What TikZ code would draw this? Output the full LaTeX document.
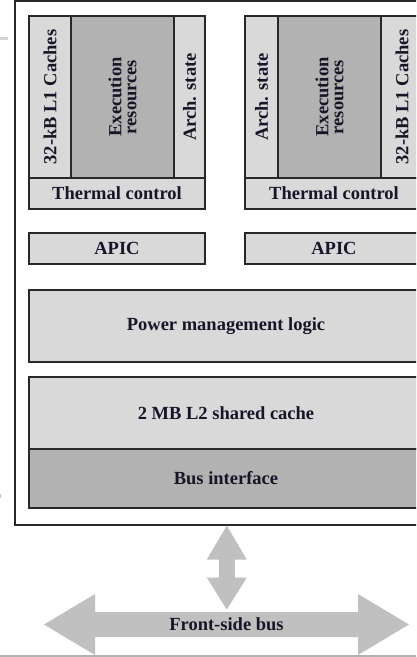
\documentclass[tikz,border=0pt]{standalone}
\usepackage{fontspec}
\setmainfont{Liberation Serif}
\definecolor{boxlight}{RGB}{217,217,217}
\definecolor{boxdark}{RGB}{178,178,178}
\definecolor{busgray}{RGB}{192,192,192}
\definecolor{edgegray}{RGB}{40,40,40}
\definecolor{inkblue}{RGB}{22,22,40}
\tikzset{
  unit/.style={draw=edgegray, line width=1.6pt, fill=boxlight},
  darkunit/.style={unit, fill=boxdark},
  lbl/.style={text=inkblue, inner sep=0pt, align=center,
    font=\fontsize{18.5}{15}\selectfont\bfseries},
}
\begin{document}
\begin{tikzpicture}[x=1pt,y=-1pt]
\useasboundingbox (0,0) rectangle (416,657);
\clip (0,0) rectangle (416,657);
\node[draw=edgegray, line width=1.6pt, fill=white, anchor=north west,
  minimum width=424pt, minimum height=524pt, inner sep=0pt] (chip) at (14,0) {};
\draw[unit] (29,16) rectangle node[lbl, rotate=90] (cacheL) {32-kB L1 Caches} (71,178);
\draw[darkunit] (71,16) rectangle node[lbl, rotate=90] (execL) {Execution\\resources} (174,178);
\draw[unit] (174,16) rectangle node[lbl, rotate=90] (archL) {Arch. state} (205,178);
\draw[unit] (29,178) rectangle node[lbl] (thermL) {Thermal control} (205,209);
\draw[unit] (245,16) rectangle node[lbl, rotate=90] (archR) {Arch. state} (278,178);
\draw[darkunit] (278,16) rectangle node[lbl, rotate=90] (execR) {Execution\\resources} (381,178);
\draw[unit] (381,16) rectangle node[lbl, rotate=90] (cacheR) {32-kB L1 Caches} (423,178);
\draw[unit] (245,178) rectangle node[lbl] (thermR) {Thermal control} (423,209);
\draw[unit] (29,233) rectangle node[lbl] (apicL) {APIC} (205,264);
\draw[unit] (245,233) rectangle node[lbl] (apicR) {APIC} (423,264);
\draw[unit] (29,290) rectangle node[lbl] (power) {Power management logic} (423,362);
\draw[unit] (29,377) rectangle node[lbl] (ltwo) {2 MB L2 shared cache} (423,449);
\draw[darkunit] (29,449) rectangle node[lbl] (busif) {Bus interface} (423,508);
\fill[busgray] (44,624.5) -- (95,594) -- (95,612) -- (358,612) -- (358,594)
  -- (409,624.5) -- (358,655) -- (358,637) -- (95,637) -- (95,655) -- cycle;
\node[lbl] (fsb) at (226.5,624.5) {Front-side bus};
\fill[busgray] (chip.south) -- ++(-20,34) -- ++(12,0) -- ++(0,18) -- ++(-12,0)
  -- ++(20,32) -- ++(20,-32) -- ++(-12,0) -- ++(0,-18) -- ++(12,0) -- cycle;
\draw[gray!60, line width=1.5pt] (0,656) -- (416,656);
\draw[gray!35, line width=3pt] (0,38.5) -- (8,38.5);
\draw[gray!50, line width=1.5pt] (0.5,494) -- (0.5,498);
\end{tikzpicture}
\end{document}
